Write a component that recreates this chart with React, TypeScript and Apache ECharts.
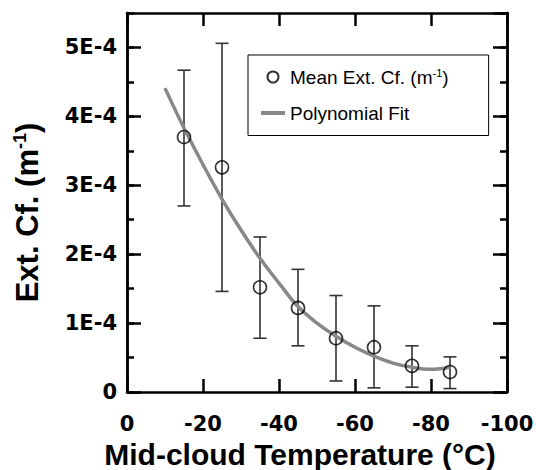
import React, { useEffect, useRef } from "react";
import * as echarts from "echarts";

// Mid-cloud temperature (°C) of each bin
const binTemps = [-15, -25, -35, -45, -55, -65, -75, -85];
// Mean extinction coefficient (m^-1)
const meanExtCf = [3.7e-4, 3.26e-4, 1.52e-4, 1.22e-4, 0.78e-4, 0.65e-4, 0.38e-4, 0.29e-4];
// Error bar upper / lower ends
const errHigh = [4.67e-4, 5.06e-4, 2.25e-4, 1.78e-4, 1.4e-4, 1.25e-4, 0.67e-4, 0.51e-4];
const errLow = [2.7e-4, 1.46e-4, 0.78e-4, 0.67e-4, 0.16e-4, 0.06e-4, 0.07e-4, 0.05e-4];
// Polynomial fit curve
const fitTemps = [-10, -15, -20, -25, -30, -35, -40, -45, -50, -55, -60, -65, -70, -75, -80, -85];
const fitValues = [
  4.41e-4, 3.83e-4, 3.3e-4, 2.8e-4, 2.35e-4, 1.94e-4, 1.58e-4, 1.24e-4, 1.0e-4, 0.81e-4,
  0.65e-4, 0.52e-4, 0.42e-4, 0.36e-4, 0.33e-4, 0.36e-4,
];
// Axis ranges and ticks
const xMin = -100;
const xMax = 0;
const xStep = 20;
const yMin = 0;
const yMax = 5.5e-4;
const yStep = 1e-4;
const yMinorStep = 0.5e-4;

const SERIES_MEAN = "Mean Ext. Cf. (m-1)";
const SERIES_FIT = "Polynomial Fit";

const yLabel = (v: number) => {
  const n = Math.round(v / yStep);
  if (Math.abs(v / yStep - n) > 1e-6) return "";
  return n === 0 ? "0" : `${n}E-4`;
};

export default function App() {
  const ref = useRef<HTMLDivElement>(null);
  useEffect(() => {
    if (!ref.current) return;
    const chart = echarts.init(ref.current, null, { renderer: "svg" });
    const axisLine = { show: true, onZero: false, lineStyle: { color: "#000", width: 2.5 } };
    const tickFont = {
      fontFamily: "DejaVu Sans",
      fontWeight: "bold" as const,
      fontSize: 21,
      color: "#000",
    };
    const yBase = {
      type: "value" as const,
      min: yMin,
      max: yMax,
      splitLine: { show: false },
      axisLine,
    };
    const option = {
      animation: false,
      backgroundColor: "#fff",
      grid: {
        left: 127,
        right: 29,
        top: 13,
        bottom: 78,
        containLabel: false,
        outerBoundsMode: "none",
      },
      legend: {
        orient: "vertical",
        left: 248,
        top: 55,
        padding: [12, 40, 13, 13],
        itemGap: 17,
        itemWidth: 24,
        itemHeight: 11,
        borderColor: "#000",
        borderWidth: 1,
        backgroundColor: "#fff",
        data: [
          { name: SERIES_MEAN, icon: "circle" },
          { name: SERIES_FIT, icon: "path://M0,0L24,0L24,4L0,4Z", itemStyle: { color: "#888" } },
        ],
        formatter: (name: string) =>
          name === SERIES_MEAN ? "{a|Mean Ext. Cf. (m}{s|-1}{a|)}" : "{a|Polynomial Fit}",
        textStyle: {
          rich: {
            a: { fontFamily: "Liberation Sans", fontSize: 19, color: "#000" },
            s: {
              fontFamily: "Liberation Sans",
              fontSize: 11,
              color: "#000",
              verticalAlign: "top",
              padding: [0, 0, 9, 0],
            },
          },
        },
      },
      xAxis: [
        {
          type: "value",
          min: xMin,
          max: xMax,
          interval: xStep,
          inverse: true,
          position: "bottom",
          splitLine: { show: false },
          axisLine,
          axisTick: { inside: true, length: 13, lineStyle: { color: "#000", width: 2.5 } },
          axisLabel: { ...tickFont, margin: 21 },
          name: "Mid-cloud Temperature (°C)",
          nameLocation: "middle",
          nameGap: 44,
          nameTextStyle: {
            fontFamily: "Liberation Sans",
            fontWeight: "bold",
            fontSize: 30,
            lineHeight: 31,
            color: "#000",
            padding: [0, 34, 0, 0],
          },
        },
        {
          type: "value",
          min: xMin,
          max: xMax,
          interval: xStep,
          inverse: true,
          position: "top",
          splitLine: { show: false },
          axisLine,
          axisTick: { inside: true, length: 13, lineStyle: { color: "#000", width: 2.5 } },
          axisLabel: { show: false },
        },
      ],
      yAxis: [
        {
          ...yBase,
          interval: yStep,
          position: "left",
          axisTick: { inside: true, length: 14, lineStyle: { color: "#000", width: 2.5 } },
          axisLabel: { ...tickFont, margin: 10, formatter: yLabel, showMaxLabel: false },
          name: "{a|Ext. Cf. (m}{s|-1}{a|)}",
          nameLocation: "middle",
          nameRotate: 90,
          nameGap: 84,
          nameTextStyle: {
            padding: [0, 20, 0, 0],
            rich: {
              a: {
                fontFamily: "Liberation Sans",
                fontWeight: "bold",
                fontSize: 31,
                color: "#000",
              },
              s: {
                fontFamily: "Liberation Sans",
                fontWeight: "bold",
                fontSize: 18,
                color: "#000",
                verticalAlign: "top",
                padding: [0, 0, 14, 0],
              },
            },
          },
        },
        {
          ...yBase,
          interval: yMinorStep,
          position: "left",
          axisTick: { inside: true, length: 7, lineStyle: { color: "#000", width: 2.5 } },
          axisLabel: { show: false },
        },
        {
          ...yBase,
          interval: yStep,
          position: "right",
          axisTick: { inside: true, length: 14, lineStyle: { color: "#000", width: 2.5 } },
          axisLabel: { show: false },
        },
        {
          ...yBase,
          interval: yMinorStep,
          position: "right",
          axisTick: { inside: true, length: 7, lineStyle: { color: "#000", width: 2.5 } },
          axisLabel: { show: false },
        },
      ],
      series: [
        {
          name: "errorbars",
          type: "custom",
          xAxisIndex: 0,
          yAxisIndex: 0,
          data: binTemps.map((t, i) => [t, errLow[i], errHigh[i]]),
          encode: { x: 0, y: [1, 2] },
          z: 2,
          renderItem: (params: any, api: any) => {
            const x = api.value(0);
            const lo = api.coord([x, api.value(1)]);
            const hi = api.coord([x, api.value(2)]);
            const w = 6.5;
            const style = { stroke: "#333", lineWidth: 1.6 };
            return {
              type: "group",
              children: [
                { type: "line", shape: { x1: lo[0], y1: lo[1], x2: hi[0], y2: hi[1] }, style },
                { type: "line", shape: { x1: lo[0] - w, y1: lo[1], x2: lo[0] + w, y2: lo[1] }, style },
                { type: "line", shape: { x1: hi[0] - w, y1: hi[1], x2: hi[0] + w, y2: hi[1] }, style },
              ],
            };
          },
        },
        {
          name: SERIES_FIT,
          type: "line",
          xAxisIndex: 0,
          yAxisIndex: 0,
          data: fitTemps.map((t, i) => [t, fitValues[i]]),
          smooth: 0.4,
          showSymbol: false,
          symbol: "none",
          z: 3,
          lineStyle: { color: "#888", width: 3.5 },
          itemStyle: { color: "#888" },
        },
        {
          name: SERIES_MEAN,
          type: "scatter",
          xAxisIndex: 0,
          yAxisIndex: 0,
          data: binTemps.map((t, i) => [t, meanExtCf[i]]),
          symbol: "circle",
          symbolSize: 13,
          z: 4,
          itemStyle: { color: "rgba(255,255,255,0)", borderColor: "#000", borderWidth: 1.6 },
        },
      ],
    };
    chart.setOption(option as any);
    return () => chart.dispose();
  }, []);
  return (
    <div
      ref={ref}
      style={{ position: "fixed", left: 0, top: 0, width: 536, height: 470, background: "#fff" }}
    />
  );
}
